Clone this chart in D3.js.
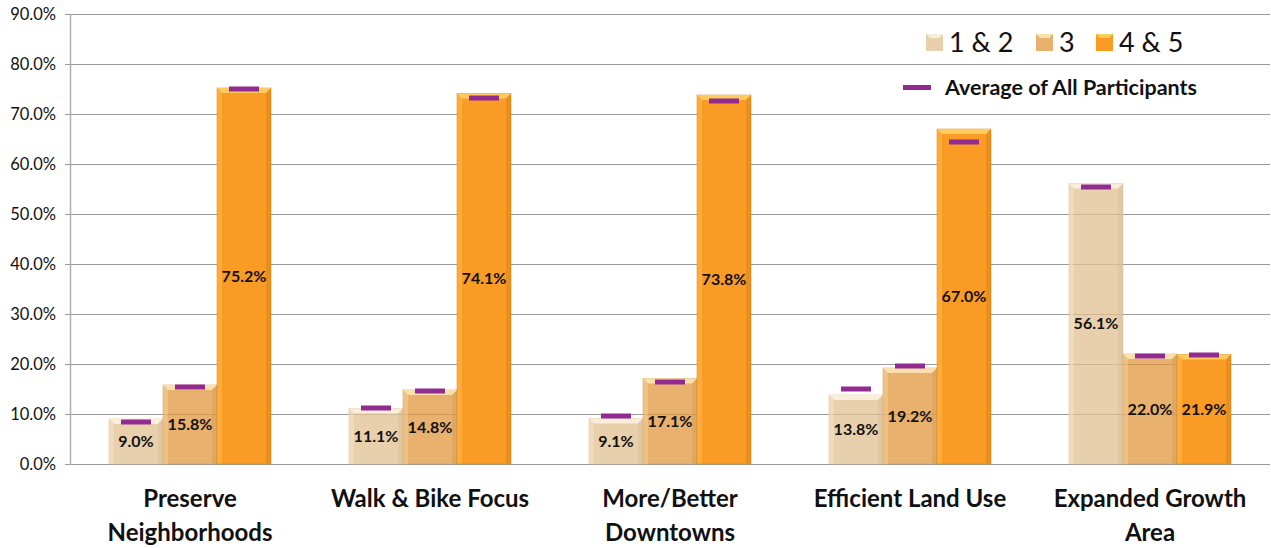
<!DOCTYPE html>
<html>
<head>
<meta charset="utf-8">
<script src="https://cdn.jsdelivr.net/npm/d3@7"></script>
<style>
  html, body { margin: 0; padding: 0; background: #fff; }
  svg { display: block; font-family: Lato, "Open Sans", sans-serif; }
</style>
</head>
<body>
<div id="chart"></div>
<script>
// categories (line breaks as in the axis labels)
const categories = ["Preserve\nNeighborhoods", "Walk & Bike Focus", "More/Better\nDowntowns", "Efficient Land Use", "Expanded Growth\nArea"];
const seriesNames = ["1 & 2", "3", "4 & 5"];

// share of responses per rating group (%)
const rating12 = [9.0, 11.1, 9.1, 13.8, 56.1];
const rating3 = [15.8, 14.8, 17.1, 19.2, 22.0];
const rating45 = [75.2, 74.1, 73.8, 67.0, 21.9];

// average of all participants (purple markers)
const avg12 = [8.4, 11.2, 9.6, 15.0, 55.4];
const avg3 = [15.4, 14.6, 16.4, 19.6, 21.6];
const avg45 = [75.0, 73.2, 72.6, 64.4, 21.8];

const yTicks = [0, 10, 20, 30, 40, 50, 60, 70, 80, 90];

const W = 1271, H = 548;
const margin = { top: 14, right: 1, bottom: 84, left: 70 };

const series = [
  { name: seriesNames[0], values: rating12, avg: avg12, fill: "#e2c092", opacity: 0.75, light: "#fbf3e2", dark: "#d8bd98" },
  { name: seriesNames[1], values: rating3, avg: avg3, fill: "#e0983e", opacity: 0.75, light: "#fce7b8", dark: "#d39a58" },
  { name: seriesNames[2], values: rating45, avg: avg45, fill: "#f99b25", opacity: 1, light: "#ffd46a", dark: "#d97f12" }
];

const svg = d3.select("#chart").append("svg")
  .attr("width", W).attr("height", H);

const x0 = d3.scaleBand().domain(categories)
  .range([margin.left, W - margin.right])
  .paddingInner(0.325).paddingOuter(0.1625);
const x1 = d3.scaleBand().domain(seriesNames).range([0, x0.bandwidth()]);
const y = d3.scaleLinear().domain([0, 90]).range([H - margin.bottom, margin.top]);

// gridlines
svg.append("g")
  .selectAll("line").data(yTicks).join("line")
  .attr("x1", margin.left - 5).attr("x2", W - margin.right)
  .attr("y1", d => y(d) + 0.5).attr("y2", d => y(d) + 0.5)
  .attr("stroke", "#9a9a9a").attr("stroke-width", 1);

// y axis
const yAxis = svg.append("g")
  .attr("transform", `translate(${margin.left},0)`)
  .call(d3.axisLeft(y).tickValues(yTicks).tickSize(0).tickPadding(14)
    .tickFormat(d => d.toFixed(1) + "%"));
yAxis.select(".domain").attr("stroke", "#b0b0b0").attr("stroke-width", 1.5);
yAxis.selectAll("text").attr("font-size", 16.5).attr("fill", "#111")
  .attr("font-family", "Lato, sans-serif");

// bars
const groups = svg.append("g").selectAll("g").data(categories).join("g")
  .attr("transform", d => `translate(${x0(d)},0)`);

series.forEach(s => {
  const bw = x1.bandwidth();
  const g = groups.append("g").attr("transform", `translate(${x1(s.name)},0)`);
  g.each(function(cat, i) {
    const v = s.values[i];
    const top = y(v), bot = y(0), h = bot - top;
    const sel = d3.select(this);
    sel.append("rect")
      .attr("x", 0).attr("y", top).attr("width", bw).attr("height", h)
      .attr("fill", s.fill).attr("fill-opacity", s.opacity)
      .attr("stroke", s.dark).attr("stroke-width", 0.8).attr("stroke-opacity", 0.6);
    // bevel: top highlight, left light edge, right dark edge
    const b = 5;
    sel.append("polygon")
      .attr("points", [[0, top], [bw, top], [bw - b, top + b], [b, top + b]].map(p => p.join(",")).join(" "))
      .attr("fill", s.light).attr("opacity", 0.85);
    sel.append("polygon")
      .attr("points", [[0, top], [b, top + b], [b, bot], [0, bot]].map(p => p.join(",")).join(" "))
      .attr("fill", s.light).attr("opacity", 0.3);
    sel.append("polygon")
      .attr("points", [[bw, top], [bw - b, top + b], [bw - b, bot], [bw, bot]].map(p => p.join(",")).join(" "))
      .attr("fill", s.dark).attr("opacity", 0.45);
    // value label
    sel.append("text")
      .attr("x", bw / 2).attr("y", (top + bot) / 2 + 5.5)
      .attr("text-anchor", "middle").attr("font-size", 16).attr("font-weight", 700)
      .attr("fill", "#111").text(v.toFixed(1) + "%");
    // average marker
    sel.append("rect")
      .attr("x", bw / 2 - 15).attr("y", y(s.avg[i]) - 2.5)
      .attr("width", 30).attr("height", 5).attr("fill", "#922b8f");
  });
});

// category labels
svg.append("g").selectAll("text").data(categories).join("text")
  .attr("x", d => x0(d) + x0.bandwidth() / 2)
  .attr("y", 507)
  .attr("text-anchor", "middle").attr("font-size", 24).attr("font-weight", 700)
  .attr("fill", "#111")
  .each(function(d) {
    d.split("\n").forEach((line, k) => {
      d3.select(this).append("tspan")
        .attr("x", x0(d) + x0.bandwidth() / 2)
        .attr("dy", k === 0 ? 0 : 34).text(line);
    });
  });

// legend
const legend = svg.append("g");
const legendPos = [926, 1036, 1096];
series.forEach((s, i) => {
  const lx = legendPos[i];
  legend.append("rect").attr("x", lx).attr("y", 34).attr("width", 17).attr("height", 17)
    .attr("fill", s.fill).attr("fill-opacity", s.opacity);
  legend.append("polygon")
    .attr("points", `${lx},34 ${lx + 17},34 ${lx + 13},38 ${lx + 4},38`)
    .attr("fill", s.light).attr("opacity", 0.85);
  legend.append("text").attr("x", lx + 23).attr("y", 52)
    .attr("font-size", 27).attr("fill", "#111").text(s.name);
});
legend.append("rect").attr("x", 903).attr("y", 85).attr("width", 28).attr("height", 5)
  .attr("fill", "#922b8f");
legend.append("text").attr("x", 945).attr("y", 95)
  .attr("font-size", 21.5).attr("font-weight", 700).attr("fill", "#111")
  .text("Average of All Participants");
</script>
</body>
</html>
